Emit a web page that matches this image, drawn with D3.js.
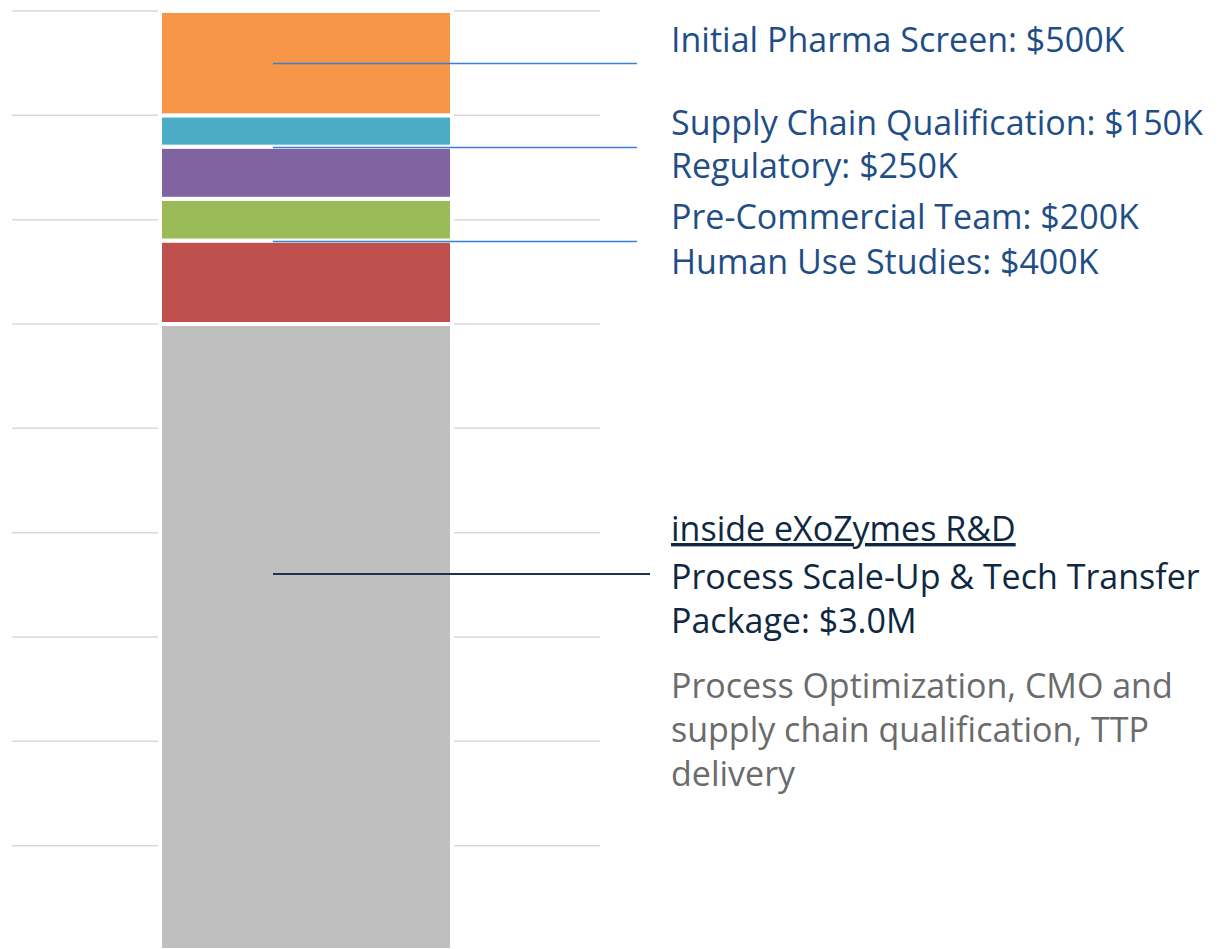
<!DOCTYPE html>
<html>
<head>
<meta charset="utf-8">
<script src="https://cdn.jsdelivr.net/npm/d3@7"></script>
<style>
  html, body { margin: 0; padding: 0; background: #fff; }
  svg { display: block; }
</style>
</head>
<body>
<svg id="chart" width="1230" height="949"></svg>
<script>
// ---- data ----
const segments = ["Process Scale-Up & Tech Transfer Package", "Human Use Studies", "Pre-Commercial Team", "Regulatory", "Supply Chain Qualification", "Initial Pharma Screen"];
const values = [3.0, 0.4, 0.2, 0.25, 0.15, 0.5]; // $M
const colors = ["#bfbfbf", "#c0504d", "#9bbb59", "#8064a2", "#4bacc6", "#f79646"];
const yTicks = [0, 0.5, 1.0, 1.5, 2.0, 2.5, 3.0, 3.5, 4.0, 4.5];

const upperLabels = [
  "Initial Pharma Screen: $500K",
  "Supply Chain Qualification: $150K",
  "Regulatory: $250K",
  "Pre-Commercial Team: $200K",
  "Human Use Studies: $400K"
];
const leaderValues = [4.25, 3.85, 3.4]; // anchor points of blue leader lines
const rdTitle = "inside eXoZymes R&D";
const rdLines = ["Process Scale-Up & Tech Transfer", "Package: $3.0M"];
const rdNote = ["Process Optimization, CMO and", "supply chain qualification, TTP", "delivery"];
const rdLeaderValue = 1.8;

// ---- layout ----
const svg = d3.select("#chart");
const y = d3.scaleLinear().domain([0, 4.5]).range([950, 11]);
const x = d3.scaleBand().domain(["total"]).range([160, 452]).padding(0);

// gridlines
svg.append("g").selectAll("line").data(yTicks).join("line")
  .attr("x1", 12).attr("x2", 600)
  .attr("y1", d => y(d)).attr("y2", d => y(d))
  .attr("stroke", "#d9d9d9").attr("stroke-width", 1.5);

// stacked segments
let cum = 0;
const stack = values.map((v, i) => { const s = {name: segments[i], y0: cum, y1: cum + v, color: colors[i]}; cum += v; return s; });
const bx = x("total"), bw = x.bandwidth();
svg.append("g").selectAll("rect").data(stack).join("rect")
  .attr("x", bx).attr("width", bw)
  .attr("y", d => y(d.y1)).attr("height", d => y(d.y0) - y(d.y1))
  .attr("fill", d => d.color)
  .attr("stroke", "#ffffff").attr("stroke-width", 4);

// leader lines
const lx1 = bx + bw * 0.387;
svg.append("g").selectAll("line").data(leaderValues).join("line")
  .attr("x1", lx1).attr("x2", 637)
  .attr("y1", d => Math.round(y(d)) + 0.5).attr("y2", d => Math.round(y(d)) + 0.5)
  .attr("stroke", "#3a7fd5").attr("stroke-width", 1.5);
svg.append("line")
  .attr("x1", lx1).attr("x2", 650)
  .attr("y1", Math.round(y(rdLeaderValue))).attr("y2", Math.round(y(rdLeaderValue)))
  .attr("stroke", "#1b3350").attr("stroke-width", 2);

// text
const font = "'Open Sans', 'Noto Sans', sans-serif";
const tx = 671;
const upperBaselines = [52, 135, 178, 229, 274];
const g = svg.append("g").attr("font-family", font).attr("font-size", 30);

// fit font size so the widest label spans the same width as in the reference
const probe = g.append("text").text(upperLabels[1]);
const w30 = probe.node().getComputedTextLength();
probe.remove();
const fs = Math.min(34, 30 * 551 / w30);
g.attr("font-size", fs);

g.selectAll("text.up").data(upperLabels).join("text").attr("class", "up")
  .attr("x", tx).attr("y", (d, i) => upperBaselines[i])
  .attr("fill", "#1f4e87").text(d => d);

g.append("text").attr("x", tx).attr("y", 541).attr("fill", "#0e2841")
  .attr("text-decoration", "underline").text(rdTitle);
g.selectAll("text.rd").data(rdLines).join("text").attr("class", "rd")
  .attr("x", tx).attr("y", (d, i) => 589 + i * 44)
  .attr("fill", "#0e2841").text(d => d);
g.selectAll("text.note").data(rdNote).join("text").attr("class", "note")
  .attr("x", tx).attr("y", (d, i) => 698 + i * 44)
  .attr("fill", "#6b6b6b").text(d => d);
</script>
</body>
</html>
